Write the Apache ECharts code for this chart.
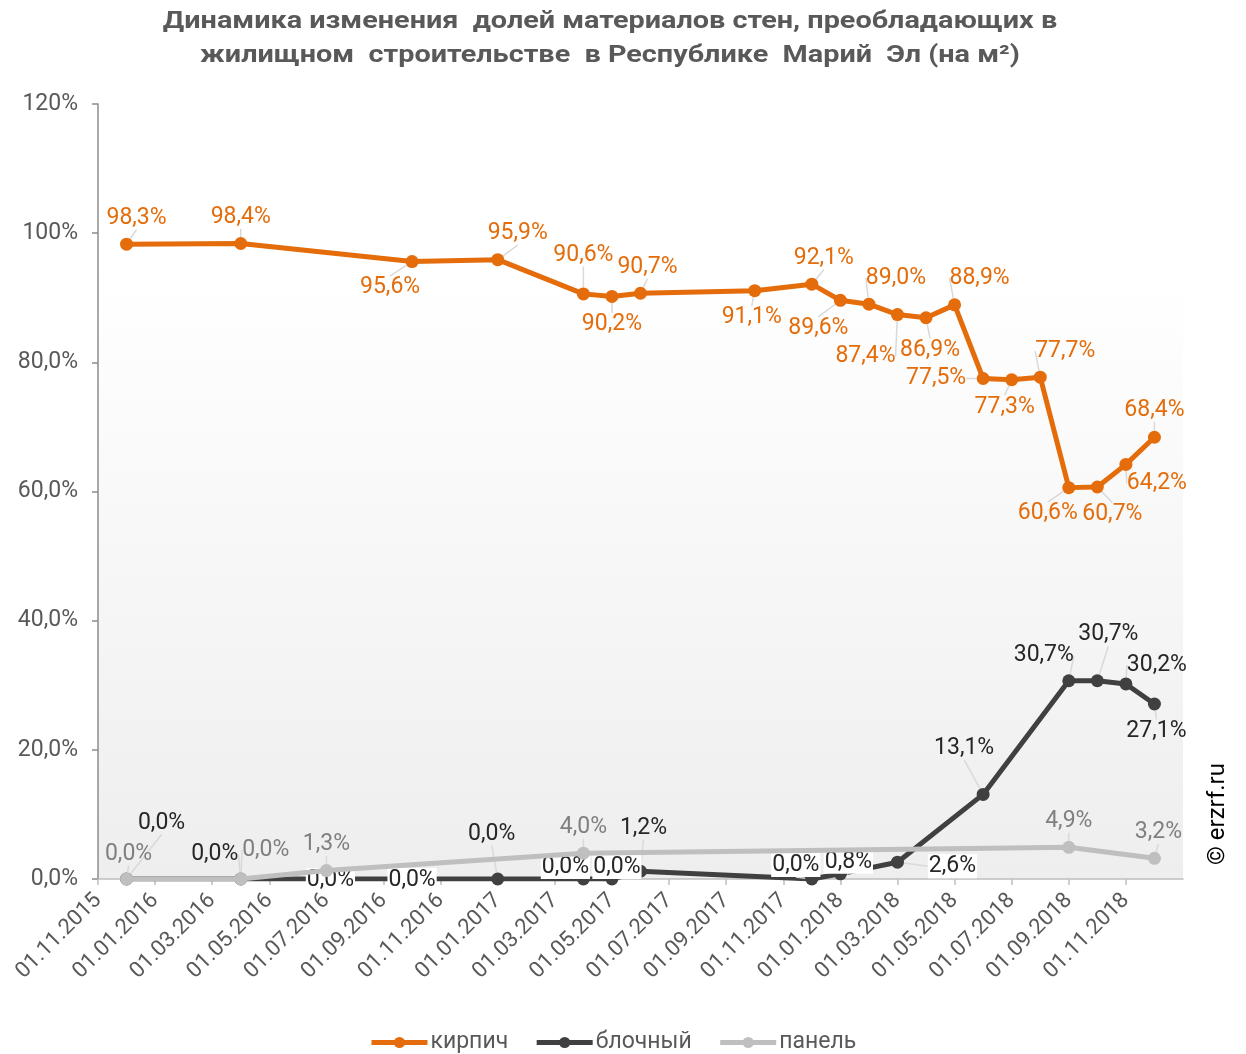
<!DOCTYPE html>
<html><head><meta charset="utf-8">
<script src="https://cdn.jsdelivr.net/npm/echarts@6/dist/echarts.min.js"></script>
<style>html,body{margin:0;padding:0;background:#fff}#c{width:1246px;height:1054px}</style>
</head><body><div id="c"></div>
<script>
// ---- data ----
const titleLines = ['Динамика изменения  долей материалов стен, преобладающих в', 'жилищном  строительстве  в Республике  Марий  Эл (на м²)'];
const seriesNames = ['кирпич', 'блочный', 'панель'];
const kirpichDates = ['01.12.2015','01.04.2016','01.10.2016','01.01.2017','01.04.2017','01.05.2017','01.06.2017','01.10.2017','01.12.2017','01.01.2018','01.02.2018','01.03.2018','01.04.2018','01.05.2018','01.06.2018','01.07.2018','01.08.2018','01.09.2018','01.10.2018','01.11.2018','01.12.2018'];
const kirpichValues = [98.3,98.4,95.6,95.9,90.6,90.2,90.7,91.1,92.1,89.6,89.0,87.4,86.9,88.9,77.5,77.3,77.7,60.6,60.7,64.2,68.4];
const blochDates = ['01.12.2015','01.04.2016','01.07.2016','01.10.2016','01.01.2017','01.04.2017','01.05.2017','01.06.2017','01.12.2017','01.01.2018','01.03.2018','01.06.2018','01.09.2018','01.10.2018','01.11.2018','01.12.2018'];
const blochValues = [0,0,0,0,0,0,0,1.2,0,0.8,2.6,13.1,30.7,30.7,30.2,27.1];
const panelDates = ['01.12.2015','01.04.2016','01.07.2016','01.04.2017','01.09.2018','01.12.2018'];
const panelValues = [0,0,1.3,4.0,4.9,3.2];
const xTickDates = ['01.11.2015','01.01.2016','01.03.2016','01.05.2016','01.07.2016','01.09.2016','01.11.2016','01.01.2017','01.03.2017','01.05.2017','01.07.2017','01.09.2017','01.11.2017','01.01.2018','01.03.2018','01.05.2018','01.07.2018','01.09.2018','01.11.2018'];
const xEndDate = '01.01.2019';
const yTickLabels = ['0,0%','20,0%','40,0%','60,0%','80,0%','100%','120%'];
const watermark = '© erzrf.ru';

// ---- label placement (offsets of label centre from point, px) ----
const kirpichLabelOffsets = [[10,-26],[0,-26],[-22,26],[20,-26],[0,-39],[0,28],[7,-26],[-3,27],[12,-26],[-22,28],[27,-26],[-32,42],[4,32],[25,-27],[-47,0],[-7,27],[25,-26],[-21,26],[15,27],[31,19],[0,-27]];
const blochLabelOffsets = [[35,-56],[-26,-25],[4,1],[0,1],[-6,-45],[-18,-12],[5,-12],[3,-43],[-16,-14],[8,-12],[55,4],[-19,-46],[-25,-25],[11,-46],[31,-19],[2,27]];
const blochLabelWhite = [false,false,true,true,false,true,true,false,true,true,true,false,false,false,false,false];
const panelLabelOffsets = [[2,-25],[25,-29],[0,-26],[0,-26],[0,-26],[4,-26]];

// helpers
function monthIndex(d){ const p = d.split('.'); return (parseInt(p[2]) - 2015) * 12 + (parseInt(p[1]) - 11); }
function idxToDate(i){ const tot = 10 + i; const y = 2015 + Math.floor(tot / 12); const m = tot % 12 + 1; return '01.' + (m < 10 ? '0' + m : m) + '.' + y; }
function fmtPct(v){ return v.toFixed(1).replace('.', ',') + '%'; }

const colors = ['#E46C0A', '#404040', '#BFBFBF'];
const labelColors = ['#E46C0A', '#262626', '#7F7F7F'];
const offsets = [kirpichLabelOffsets, blochLabelOffsets, panelLabelOffsets];

function buildData(dates, values, si){
  return dates.map((d, i) => {
    const item = { value: [monthIndex(d), values[i]] };
    if (si === 1 && blochLabelWhite[i]) {
      item.label = { backgroundColor: '#fff', padding: [1, 1, 0, 1] };
    }
    return item;
  });
}

const allData = [
  buildData(kirpichDates, kirpichValues, 0),
  buildData(blochDates, blochValues, 1),
  buildData(panelDates, panelValues, 2)
];

const chart = echarts.init(document.getElementById('c'));
const fontFamily = 'Roboto, "Noto Sans", sans-serif';

const series = seriesNames.map((name, si) => ({
  name: name,
  type: 'line',
  data: allData[si],
  symbol: 'circle',
  symbolSize: 13,
  z: 2 + si,
  lineStyle: { width: 5, color: colors[si] },
  itemStyle: { color: colors[si] },
  label: {
    show: true,
    position: 'inside',
    formatter: p => fmtPct(p.value[1]),
    fontFamily: fontFamily,
    fontSize: 23,
    color: labelColors[si]
  },
  labelLine: { show: true, lineStyle: { color: '#D9D9D9', width: 1.5 }, smooth: false },
  labelLayout: function (params) {
    const o = offsets[si][params.dataIndex];
    return { dx: o[0], dy: o[1] };
  },
  emphasis: { disabled: true },
  animation: false
}));

const tickVals = xTickDates.map(monthIndex);

chart.setOption({
  animation: false,
  backgroundColor: '#fff',
  grid: {
    left: 98, right: 63, top: 104, bottom: 175,
    show: true,
    borderWidth: 0,
    backgroundColor: new echarts.graphic.LinearGradient(0, 0, 0, 1, [
      { offset: 0, color: '#ffffff' },
      { offset: 0.22, color: '#ffffff' },
      { offset: 1, color: '#EEEEEE' }
    ])
  },
  legend: {
    top: 1026,
    left: 364,
    itemWidth: 56,
    itemHeight: 14,
    itemGap: 26,
    lineStyle: { width: 5 },
    itemStyle: { borderWidth: 0 },
    textStyle: { fontFamily: fontFamily, fontSize: 23, color: '#595959', padding: [0, 0, 0, -2] },
    data: seriesNames
  },
  xAxis: {
    type: 'value',
    min: 0,
    max: monthIndex(xEndDate),
    interval: 2,
    splitLine: { show: false },
    axisLine: { show: true, onZero: false, lineStyle: { color: '#BFBFBF', width: 1.5 } },
    axisTick: { show: true, length: 6, lineStyle: { color: '#BFBFBF', width: 1.5 }, customValues: tickVals },
    axisLabel: {
      rotate: 45,
      margin: 18,
      fontFamily: fontFamily,
      fontSize: 22,
      color: '#595959',
      customValues: tickVals,
      formatter: v => idxToDate(Math.round(v))
    }
  },
  yAxis: {
    type: 'value',
    min: 0,
    max: 120,
    interval: 20,
    splitLine: { show: false },
    axisLine: { show: true, lineStyle: { color: '#8C8C8C', width: 1.5 } },
    axisTick: { show: true, length: 6, lineStyle: { color: '#8C8C8C', width: 1.5 } },
    axisLabel: {
      margin: 20,
      fontFamily: fontFamily,
      fontSize: 23,
      color: '#595959',
      formatter: v => yTickLabels[Math.round(v / 20)]
    }
  },
  graphic: [
    {
      type: 'text', x: 610, y: 22, scaleX: 1.2, scaleY: 1,
      style: { text: titleLines[0], fontFamily: fontFamily, fontWeight: 'bold', fontSize: 24, fill: '#595959', align: 'center', verticalAlign: 'middle' }
    },
    {
      type: 'text', x: 610, y: 56, scaleX: 1.2, scaleY: 1,
      style: { text: titleLines[1], fontFamily: fontFamily, fontWeight: 'bold', fontSize: 24, fill: '#595959', align: 'center', verticalAlign: 'middle' }
    },
    {
      type: 'text', x: 1218, y: 814, rotation: Math.PI / 2,
      style: { text: watermark, fontFamily: fontFamily, fontSize: 24, fill: '#000', align: 'center', verticalAlign: 'middle' }
    }
  ],
  series: series
});
</script></body></html>
